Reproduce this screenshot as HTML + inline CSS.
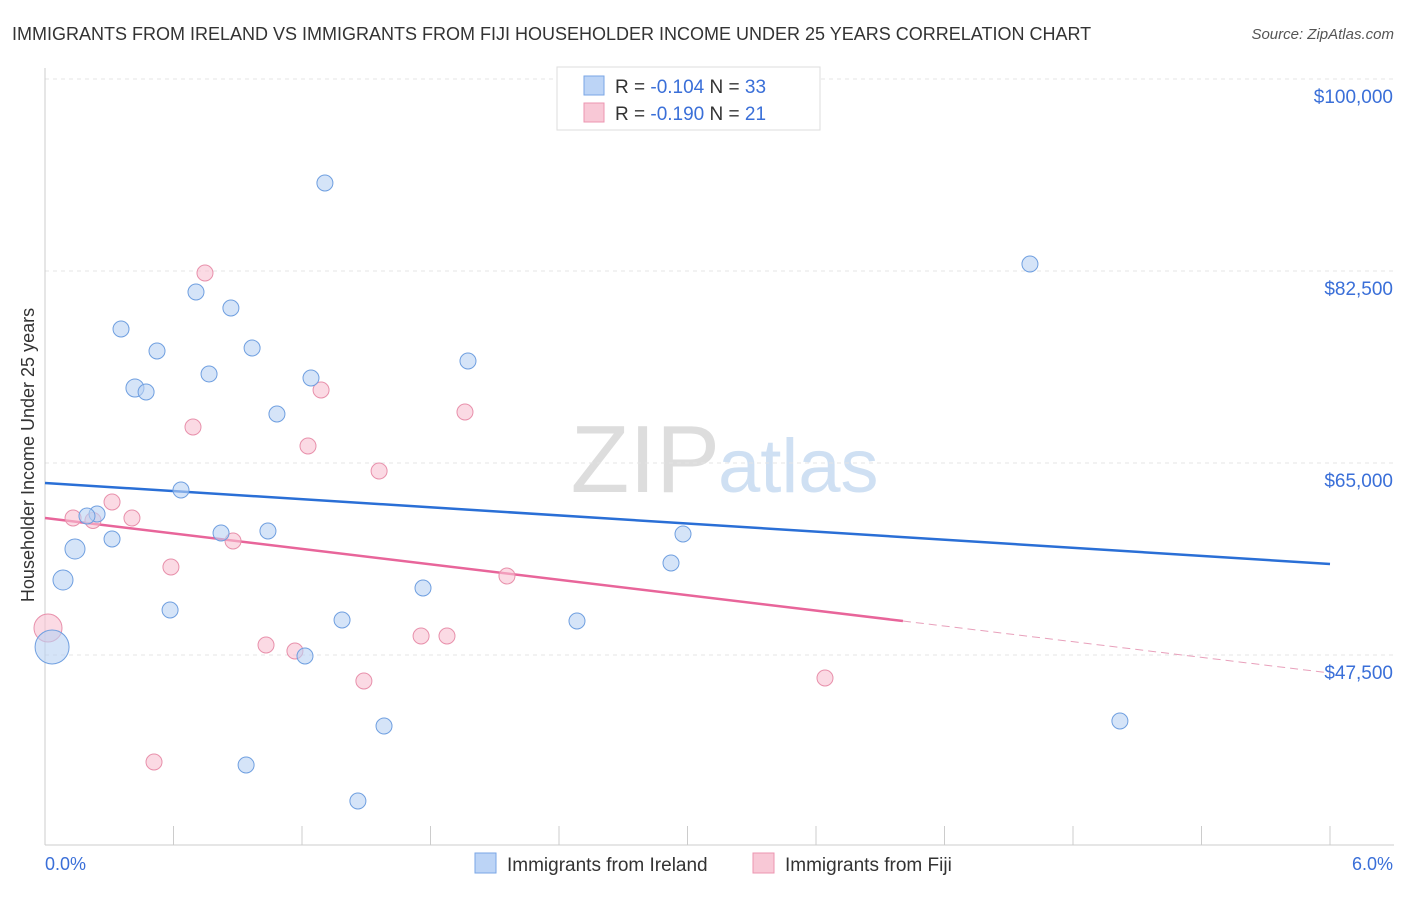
<!DOCTYPE html>
<html><head><meta charset="utf-8"><style>
body{margin:0;background:#fff;font-family:"Liberation Sans",sans-serif;}
svg text{font-family:"Liberation Sans",sans-serif;}
</style></head><body>
<svg id="c" width="1406" height="892">
<text x="12" y="40" font-size="18" fill="#333">IMMIGRANTS FROM IRELAND VS IMMIGRANTS FROM FIJI HOUSEHOLDER INCOME UNDER 25 YEARS CORRELATION CHART</text>
<text x="1394" y="39" font-size="15" fill="#555" text-anchor="end" font-style="italic">Source: ZipAtlas.com</text>
<text x="720" y="492" font-size="96" fill="#ddd" text-anchor="end" font-family="Liberation Serif">ZIP</text>
<text x="718" y="492" font-size="76" fill="#cfe0f3">atlas</text>
<g id="grid"></g><g id="axes"></g><g id="trends"></g><g id="pts"></g>
<text transform="translate(34,455) rotate(-90)" font-size="18" fill="#333" text-anchor="middle">Householder Income Under 25 years</text>
<text x="45" y="870" font-size="18" fill="#3a6fd8">0.0%</text>
<text x="1393" y="870" font-size="18" fill="#3a6fd8" text-anchor="end">6.0%</text>
<g>
<rect x="557" y="67" width="263" height="63" fill="#fff" stroke="#ddd"/>
<rect x="584" y="76" width="20" height="19" fill="#bcd4f6" stroke="#7aa6e6"/>
<rect x="584" y="103" width="20" height="19" fill="#f8c8d6" stroke="#ec96b0"/>
<text x="615" y="93" font-size="19" fill="#333">R = <tspan fill="#3a6fd8">-0.104</tspan>   N = <tspan fill="#3a6fd8">33</tspan></text>
<text x="615" y="120" font-size="19" fill="#333">R = <tspan fill="#3a6fd8">-0.190</tspan>   N = <tspan fill="#3a6fd8"> 21</tspan></text>
</g>
<g>
<rect x="475" y="853" width="21" height="20" fill="#bcd4f6" stroke="#7aa6e6"/>
<text x="507" y="871" font-size="19" fill="#333">Immigrants from Ireland</text>
<rect x="753" y="853" width="21" height="20" fill="#f8c8d6" stroke="#ec96b0"/>
<text x="785" y="871" font-size="19" fill="#333">Immigrants from Fiji</text>
</g>
</svg>
<script>
const yTicks=[100000,82500,65000,47500];
const yTickLabels=["$100,000","$82,500","$65,000","$47,500"];
const xTicks=[0,0.6,1.2,1.8,2.4,3.0,3.6,4.2,4.8,5.4,6.0];
const blueX=[1.307,4.599,0.705,0.868,0.355,0.523,0.967,1.975,0.766,1.242,0.420,0.472,1.083,0.635,0.243,0.196,0.313,0.822,1.041,0.140,2.979,2.923,0.084,1.765,0.584,1.387,2.484,0.033,1.214,5.019,1.583,0.939,1.461];
const blueY=[90521,83138,80586,79128,77214,75208,75482,74297,73112,72747,71836,71471,69466,62539,60351,60169,58073,58620,58802,57161,58529,55885,54336,53607,51602,50690,50599,48229,47409,41484,41029,37474,34193];
const blueR=[8,8,8,8,8,8,8,8,8,8,9,8,8,8,8,8,8,8,8,10,8,8,10,8,8,8,8,17,8,8,8,8,8];
const pinkX=[0.747,1.289,1.961,0.691,1.228,1.560,0.313,0.131,0.406,0.878,0.588,2.157,0.014,1.756,1.877,1.032,1.167,1.489,3.642,0.509,0.224];
const pinkY=[82318,71654,69648,68281,66549,64271,61445,59987,59987,57891,55521,54700,49961,49232,49232,48411,47864,45130,45404,37747,59760];
const pinkR=[8,8,8,8,8,8,8,8,8,8,8,8,14,8,8,8,8,8,8,8,8];
const blueTrendX=[0,6],blueTrendY=[63177,55794];
const pinkTrendX=[0,4.006],pinkTrendY=[59987,50599];
const pinkDashX=[4.006,6],pinkDashY=[50599,45859];
const NS="http://www.w3.org/2000/svg";
const xs=v=>45+v/6*1285, ys=v=>79+(100000-v)*192/17500;
function mk(t,a,p){const e=document.createElementNS(NS,t);for(const k in a)e.setAttribute(k,a[k]);document.getElementById(p).appendChild(e);return e;}
yTicks.forEach((t,i)=>{
 const l=mk('line',{x1:45,x2:1394,y1:ys(t),y2:ys(t),stroke:'#e4e4e4','stroke-dasharray':'4,4'},'grid');
 
 
 const tx=mk('text',{x:1393,y:ys(t)+24,'font-size':19,fill:'#3a6fd8','text-anchor':'end'},'grid');
 tx.textContent=yTickLabels[i];
 
 
});
const ya=mk('line',{x1:45,x2:45,y1:68,y2:845,stroke:'#ccc'},'axes');


const xa=mk('line',{x1:45,x2:1394,y1:845,y2:845,stroke:'#ccc'},'axes');


xTicks.forEach(t=>{const l=mk('line',{x1:xs(t),x2:xs(t),y1:826,y2:845,stroke:'#ccc'},'axes');
 
 });
function line(X,Y,c,d,name){const l=mk('line',{x1:xs(X[0]),y1:ys(Y[0]),x2:xs(X[1]),y2:ys(Y[1]),stroke:c,'stroke-width':d?1:2.5,'stroke-dasharray':d?'8,5':'none'},'trends');
 
 }
line(blueTrendX,blueTrendY,'#2a6fd6',false,'ireland-trend-line');
line(pinkTrendX,pinkTrendY,'#e8659a',false,'fiji-trend-line');
line(pinkDashX,pinkDashY,'#e8a0bb',true,'fiji-trend-extension');
function pts(X,Y,R,f,s,name){X.forEach((x,i)=>{const c=mk('circle',{cx:xs(x),cy:ys(Y[i]),r:R[i],fill:f,stroke:s,'stroke-width':1,'fill-opacity':0.6},'pts');
 
 });}
pts(pinkX,pinkY,pinkR,'#f8c2d2','#e890ab','fiji-point');
pts(blueX,blueY,blueR,'#b9d2f4','#6f9fe0','ireland-point');
</script>
</body></html>
